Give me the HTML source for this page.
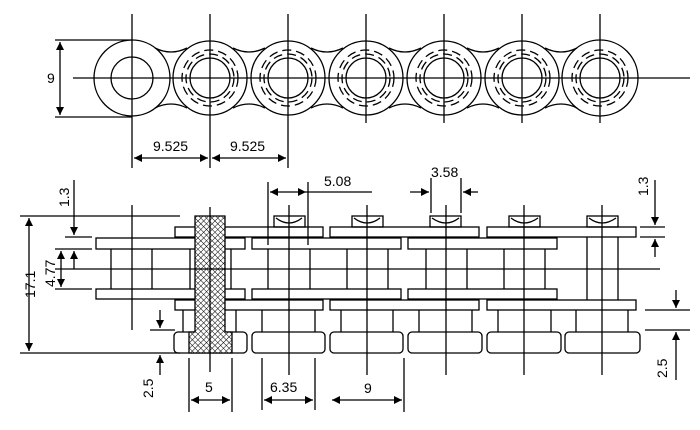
<!DOCTYPE html>
<html><head><meta charset="utf-8"><style>
html,body{margin:0;padding:0;background:#fff;}
svg{display:block;}
text{font-family:"Liberation Sans",Arial,sans-serif;font-size:14px;fill:#000;}
</style></head><body>
<svg width="700" height="430" viewBox="0 0 700 430" xmlns="http://www.w3.org/2000/svg">
<defs>
<marker id="a" viewBox="0 0 10 10" refX="10" refY="5" markerWidth="12" markerHeight="8" markerUnits="userSpaceOnUse" orient="auto-start-reverse"><path d="M0,0 L10,5 L0,10z" fill="#000"/></marker>
<pattern id="h" width="4" height="4" patternUnits="userSpaceOnUse" patternTransform="rotate(45)"><rect width="4" height="4" fill="#fff"/><path d="M0,0 V4 M0,0 H4" stroke="#000" stroke-width="1"/></pattern>
</defs>
<g fill="none" stroke="#000" stroke-width="1.3">
<g>
<circle cx="132" cy="78" r="38"/><circle cx="132" cy="78" r="21"/>
<circle cx="210" cy="78" r="37"/><circle cx="288" cy="78" r="37"/><circle cx="366" cy="78" r="37"/><circle cx="444" cy="78" r="37"/><circle cx="522" cy="78" r="37"/><circle cx="600" cy="78" r="38"/>
<g stroke-dasharray="9,5">
<circle cx="210" cy="78" r="28"/><circle cx="210" cy="78" r="24"/>
<circle cx="288" cy="78" r="28"/><circle cx="288" cy="78" r="24"/>
<circle cx="366" cy="78" r="28"/><circle cx="366" cy="78" r="24"/>
<circle cx="444" cy="78" r="28"/><circle cx="444" cy="78" r="24"/>
<circle cx="522" cy="78" r="28"/><circle cx="522" cy="78" r="24"/>
<circle cx="600" cy="78" r="28"/><circle cx="600" cy="78" r="24"/>
</g>
<circle cx="210" cy="78" r="20"/><circle cx="288" cy="78" r="20"/><circle cx="366" cy="78" r="20"/><circle cx="444" cy="78" r="20"/><circle cx="522" cy="78" r="20"/><circle cx="600" cy="78" r="20"/>
<path d="M155,48 Q171,56 187,48 M155,108 Q171,100 187,108
M233,48 Q249,56 265,48 M233,108 Q249,100 265,108
M311,48 Q327,56 343,48 M311,108 Q327,100 343,108
M389,48 Q405,56 421,48 M389,108 Q405,100 421,108
M467,48 Q483,56 499,48 M467,108 Q483,100 499,108
M545,48 Q561,56 577,48 M545,108 Q561,100 577,108"/>
<path d="M73,78 H690 M132,14 V168 M210,14 V168 M288,14 V168 M366,14 V123 M444,14 V123 M522,14 V123 M600,14 V123"/>
<path d="M55,40 H132 M55,117 H132"/>
<path d="M60,42 V115" marker-start="url(#a)" marker-end="url(#a)"/>
<path d="M134,158 H208" marker-start="url(#a)" marker-end="url(#a)"/>
<path d="M212,158 H286" marker-start="url(#a)" marker-end="url(#a)"/>
</g>
<g>
<g>
<rect x="274" y="216" width="31" height="11"/><path d="M276,218 Q289,228 302,218"/>
<rect x="352" y="216" width="31" height="11"/><path d="M354,218 Q367,228 380,218"/>
<rect x="430" y="216" width="31" height="11"/><path d="M432,218 Q446,228 459,218"/>
<rect x="509" y="216" width="31" height="11"/><path d="M511,218 Q524,228 538,218"/>
<rect x="587" y="216" width="31" height="11"/><path d="M589,218 Q602,228 616,218"/>
</g>
<rect x="175" y="227" width="148" height="10"/><rect x="330" y="227" width="149" height="10"/><rect x="487" y="227" width="149" height="10"/>
<rect x="175" y="300" width="148" height="10"/><rect x="330" y="300" width="149" height="10"/><rect x="487" y="300" width="149" height="10"/>
<rect x="96" y="238" width="149" height="11"/><rect x="252" y="238" width="149" height="11"/><rect x="408" y="238" width="149" height="11"/>
<rect x="96" y="289" width="149" height="10"/><rect x="252" y="289" width="149" height="10"/><rect x="408" y="289" width="149" height="10"/>
<path d="M111,249 V289 M152,249 V289 M190,249 V289 M231,249 V289 M268,249 V289 M310,249 V289 M347,249 V289 M388,249 V289 M426,249 V289 M467,249 V289 M504,249 V289 M545,249 V289 M587,237 V300 M618,237 V300"/>
<path d="M183,310 V332 M236,310 V332 M262,310 V332 M315,310 V332 M341,310 V332 M393,310 V332 M419,310 V332 M472,310 V332 M498,310 V332 M551,310 V332 M576,310 V332 M628,310 V332"/>
<rect x="174" y="332" width="73" height="21" rx="4"/><rect x="252" y="332" width="73" height="21" rx="4"/><rect x="330" y="332" width="73" height="21" rx="4"/><rect x="408" y="332" width="74" height="21" rx="4"/><rect x="487" y="332" width="74" height="21" rx="4"/><rect x="565" y="332" width="75" height="21" rx="4"/>
<path d="M195,216 H225 V332 H232 V353 H189 V332 H195 Z" fill="url(#h)"/>
<path d="M55,269 H660 M132,205 V330 M210,207 V372 M289,205 V375 M367,205 V375 M446,205 V375 M524,205 V375 M602,205 V375"/>
<path d="M20,216 H180 M20,353 H180"/>
<path d="M29,218 V351" marker-start="url(#a)" marker-end="url(#a)"/>
<path d="M65,237 H92 M55,249 H92 M55,289 H92"/>
<path d="M74,180 V235" marker-end="url(#a)"/>
<path d="M74,269 V251" marker-end="url(#a)"/>
<path d="M61,251 V287" marker-start="url(#a)" marker-end="url(#a)"/>
<path d="M150,330 H175"/>
<path d="M160,310 V328" marker-end="url(#a)"/>
<path d="M160,375 V355" marker-end="url(#a)"/>
<path d="M189,358 V412 M232,358 V412 M262,358 V410 M315,358 V410 M404,358 V412"/>
<path d="M191,400 H230" marker-start="url(#a)" marker-end="url(#a)"/>
<path d="M264,400 H313" marker-start="url(#a)" marker-end="url(#a)"/>
<path d="M332,400 H402" marker-start="url(#a)" marker-end="url(#a)"/>
<path d="M268,182 V245 M308,182 V245 M431,178 V213 M461,178 V213"/>
<path d="M270,192 H306" marker-start="url(#a)" marker-end="url(#a)"/>
<path d="M306,192 H372"/>
<path d="M410,192 H429" marker-end="url(#a)"/>
<path d="M478,192 H463" marker-end="url(#a)"/>
<path d="M640,227 H665 M640,237 H665"/>
<path d="M655,180 V225" marker-end="url(#a)"/>
<path d="M655,257 V239" marker-end="url(#a)"/>
<path d="M645,310 H690 M645,330 H690"/>
<path d="M676,290 V308" marker-end="url(#a)"/>
<path d="M676,380 V332" marker-end="url(#a)"/>
</g>
</g>
<g>
<text x="47" y="83">9</text>
<text x="153" y="151">9.525</text>
<text x="230" y="151">9.525</text>
<text x="324" y="186">5.08</text>
<text x="431" y="177">3.58</text>
<text x="205" y="392">5</text>
<text x="270" y="392">6.35</text>
<text x="364" y="393">9</text>
<text transform="translate(69,207) rotate(-90)">1.3</text>
<text transform="translate(35,298) rotate(-90)">17.1</text>
<text transform="translate(55,287) rotate(-90)">4.77</text>
<text transform="translate(153,398) rotate(-90)">2.5</text>
<text transform="translate(648,196) rotate(-90)">1.3</text>
<text transform="translate(667,378) rotate(-90)">2.5</text>
</g>
</svg>
</body></html>
